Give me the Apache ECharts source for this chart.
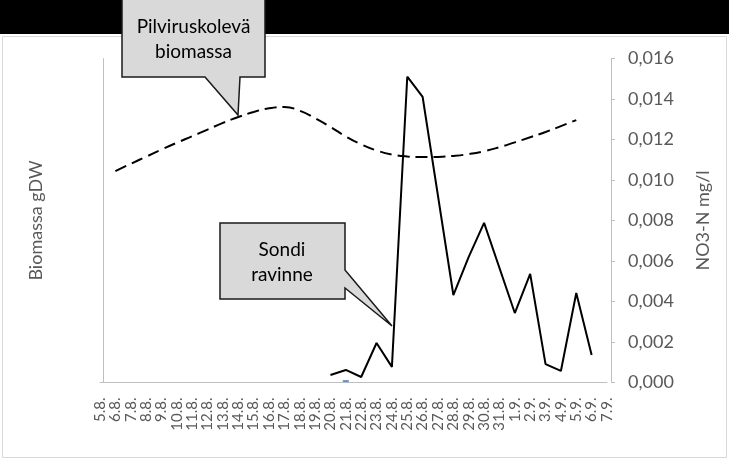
<!DOCTYPE html>
<html>
<head>
<meta charset="utf-8">
<script src="https://cdn.jsdelivr.net/npm/echarts@6/dist/echarts.min.js"></script>
<style>html,body{margin:0;padding:0;background:#fff}#c{width:729px;height:461px}</style>
</head>
<body>
<div id="c"></div>
<script>
var categories = ['5.8.','6.8.','7.8.','8.8.','9.8.','10.8.','11.8.','12.8.','13.8.','14.8.','15.8.','16.8.','17.8.','18.8.','19.8.','20.8.','21.8.','22.8.','23.8.','24.8.','25.8.','26.8.','27.8.','28.8.','29.8.','30.8.','31.8.','1.9.','2.9.','3.9.','4.9.','5.9.','6.9.','7.9.'];
var no3n = [null,null,null,null,null,null,null,null,null,null,null,null,null,null,null,
  0.00037,0.00062,0.00027,0.00195,0.00077,0.0151,0.0141,null,0.00432,0.0062,0.00788,null,
  0.00343,0.00536,0.00091,0.00057,0.00442,0.00136,null];
var biomassa = [null,10.44,10.8,11.15,11.5,11.84,12.16,12.49,12.82,13.11,13.36,13.54,13.6,13.42,13.05,
  12.62,12.15,11.76,11.46,11.26,11.16,11.13,11.14,11.19,11.28,11.42,11.62,11.86,12.11,12.37,12.66,12.96,null,null];
var blueMark = [[16, 0.00007]];

var FONT = 'Lato';
var chart = echarts.init(document.getElementById('c'), null, {renderer:'canvas'});
chart.setOption({
  animation: false,
  backgroundColor: '#fff',
  grid: {left: 100, right: 122, top: 58.5, bottom: 78.5, containLabel: false},
  xAxis: {
    type: 'category', data: categories, boundaryGap: false,
    axisLine: {lineStyle: {color: '#BFBFBF', width: 1}},
    axisTick: {show: false},
    axisLabel: {rotate: 90, interval: 0, margin: 15, fontSize: 15, color: '#595959', fontFamily: FONT}
  },
  yAxis: [
    {
      type: 'value', position: 'left', min: 0, max: 16, offset: -3,
      name: 'Biomassa gDW', nameLocation: 'middle', nameRotate: 90, nameGap: 58,
      nameTextStyle: {fontSize: 18, color: '#595959', fontFamily: FONT},
      axisLine: {show: true, lineStyle: {color: '#BFBFBF', width: 1}},
      axisTick: {show: false}, axisLabel: {show: false}, splitLine: {show: false}
    },
    {
      type: 'value', position: 'right', min: 0, max: 0.016, interval: 0.002, offset: 4,
      name: 'NO3-N mg/l', nameLocation: 'middle', nameRotate: 90, nameGap: 83,
      nameTextStyle: {fontSize: 18, color: '#595959', fontFamily: FONT},
      axisLine: {show: true, lineStyle: {color: '#BFBFBF', width: 1}},
      axisTick: {show: true, length: 4, lineStyle: {color: '#BFBFBF'}},
      axisLabel: {margin: 17, fontSize: 18, color: '#595959', fontFamily: FONT,
        formatter: function(v){ return v.toFixed(3).replace('.', ','); }},
      splitLine: {show: false}
    }
  ],
  series: [
    {
      name: 'Pilviruskolevä biomassa', type: 'line', yAxisIndex: 0, data: biomassa,
      smooth: true, showSymbol: false, symbol: 'none',
      lineStyle: {color: '#000', width: 2, type: [12, 6]}
    },
    {
      name: 'Sondi ravinne', type: 'line', yAxisIndex: 1, data: no3n,
      connectNulls: true, showSymbol: false, symbol: 'none',
      lineStyle: {color: '#000', width: 2}
    },
    {
      type: 'scatter', yAxisIndex: 1, data: blueMark, symbol: 'rect', symbolSize: [6, 2],
      itemStyle: {color: '#4472C4'}
    }
  ],
  graphic: [
    {type: 'rect', shape: {x: 0, y: 0, width: 729, height: 34}, style: {fill: '#000'}, z: -10},
    {type: 'rect', shape: {x: 2.5, y: 36.5, width: 724, height: 421}, style: {fill: 'none', stroke: '#D9D9D9', lineWidth: 1}, z: -10},
    {type: 'polygon', z: 100,
      shape: {points: [[122,-1],[265,-1],[265,77],[240,77],[238,115],[205,77],[122,77]]},
      style: {fill: '#D9D9D9', stroke: '#1a1a1a', lineWidth: 1.5}},
    {type: 'text', z: 101, x: 193.5, y: 39,
      style: {text: 'Pilviruskolevä\nbiomassa', fill: '#000', font: '19px Lato', align: 'center', verticalAlign: 'middle', lineHeight: 25}},
    {type: 'polygon', z: 100,
      shape: {points: [[220,223],[345,223],[345,270],[392,326],[345,288],[345,299],[220,299]]},
      style: {fill: '#D9D9D9', stroke: '#1a1a1a', lineWidth: 1.5}},
    {type: 'text', z: 101, x: 282, y: 262,
      style: {text: 'Sondi\nravinne', fill: '#000', font: '19px Lato', align: 'center', verticalAlign: 'middle', lineHeight: 25}}
  ]
});
</script>
</body>
</html>
